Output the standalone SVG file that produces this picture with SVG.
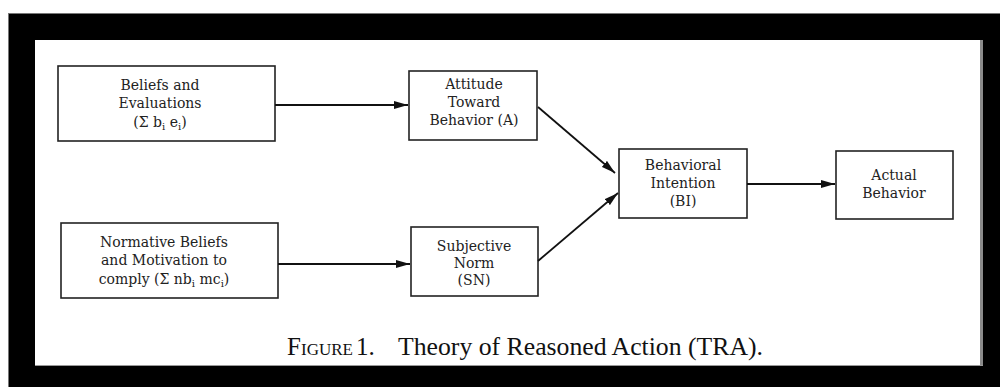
<svg xmlns="http://www.w3.org/2000/svg" width="1000" height="387" viewBox="0 0 1000 387">
  <defs>
    <marker id="ah" viewBox="0 0 14 8" refX="14" refY="4" markerWidth="14" markerHeight="8" markerUnits="userSpaceOnUse" orient="auto">
      <path d="M0,0 L14,4 L0,8 z" fill="#111"/>
    </marker>
    <style>
      .box { fill: #fff; stroke: #222; stroke-width: 1.6; }
      .t { font-family: "DejaVu Serif", "Liberation Serif", serif; font-size: 14px; fill: #222; text-anchor: middle; }
      .sub { font-size: 10px; }
      .conn line { stroke: #111; stroke-width: 1.8; marker-end: url(#ah); }
      .cap { font-family: "Liberation Serif", "DejaVu Serif", serif; font-size: 25px; fill: #111; }
      .cap.sc { font-size: 17px; }
    </style>
  </defs>
  <rect x="0" y="0" width="1000" height="387" fill="#fff"/>
  <rect x="8" y="13" width="992" height="374" fill="#000"/>
  <line x1="8.5" y1="13" x2="8.5" y2="387" stroke="#777" stroke-width="1"/>
  <line x1="8" y1="13.5" x2="1000" y2="13.5" stroke="#777" stroke-width="1"/>
  <rect x="35" y="40" width="948" height="326" fill="#fff"/>
  <rect x="980" y="40" width="3" height="326" fill="#8a8a8a"/>
  <line x1="35" y1="365.5" x2="983" y2="365.5" stroke="#999" stroke-width="1"/>

  <g id="beliefs">
    <rect class="box" x="58" y="66" width="217" height="75"/>
    <text class="t" x="160" y="90">Beliefs and</text>
    <text class="t" x="160" y="108">Evaluations</text>
    <text class="t" x="160" y="127">(Σ  b<tspan class="sub" dy="3">i</tspan><tspan dy="-3"> e</tspan><tspan class="sub" dy="3">i</tspan><tspan dy="-3">)</tspan></text>
  </g>
  <g id="attitude">
    <rect class="box" x="409" y="71" width="128" height="69"/>
    <text class="t" x="474" y="89">Attitude</text>
    <text class="t" x="474" y="107">Toward</text>
    <text class="t" x="474" y="125">Behavior (A)</text>
  </g>
  <g id="intention">
    <rect class="box" x="619" y="149" width="128" height="69"/>
    <text class="t" x="683" y="170">Behavioral</text>
    <text class="t" x="683" y="188">Intention</text>
    <text class="t" x="683" y="206">(BI)</text>
  </g>
  <g id="actual">
    <rect class="box" x="836" y="151" width="117" height="68"/>
    <text class="t" x="894" y="180">Actual</text>
    <text class="t" x="894" y="198">Behavior</text>
  </g>
  <g id="normative">
    <rect class="box" x="61" y="223" width="217" height="75"/>
    <text class="t" x="164" y="247">Normative Beliefs</text>
    <text class="t" x="164" y="265">and Motivation to</text>
    <text class="t" x="164" y="284">comply (Σ  nb<tspan class="sub" dy="3">i</tspan><tspan dy="-3"> mc</tspan><tspan class="sub" dy="3">i</tspan><tspan dy="-3">)</tspan></text>
  </g>
  <g id="subjective">
    <rect class="box" x="411" y="227" width="127" height="69"/>
    <text class="t" x="474" y="251">Subjective</text>
    <text class="t" x="474" y="268">Norm</text>
    <text class="t" x="474" y="285">(SN)</text>
  </g>

  <g id="connectors" class="conn">
    <line x1="275" y1="105" x2="408" y2="105"/>
    <line x1="538" y1="107" x2="615" y2="173"/>
    <line x1="278" y1="264" x2="410" y2="264"/>
    <line x1="538" y1="261" x2="618" y2="193"/>
    <line x1="747" y1="184" x2="835" y2="184"/>
  </g>

  <g id="caption">
    <text class="cap" x="287" y="355">F</text>
    <text class="cap sc" x="301" y="355">IGURE</text>
    <text class="cap" x="356" y="355">1.</text>
    <text class="cap" x="398" y="355" textLength="365" lengthAdjust="spacingAndGlyphs">Theory of Reasoned Action (TRA).</text>
  </g>
</svg>
